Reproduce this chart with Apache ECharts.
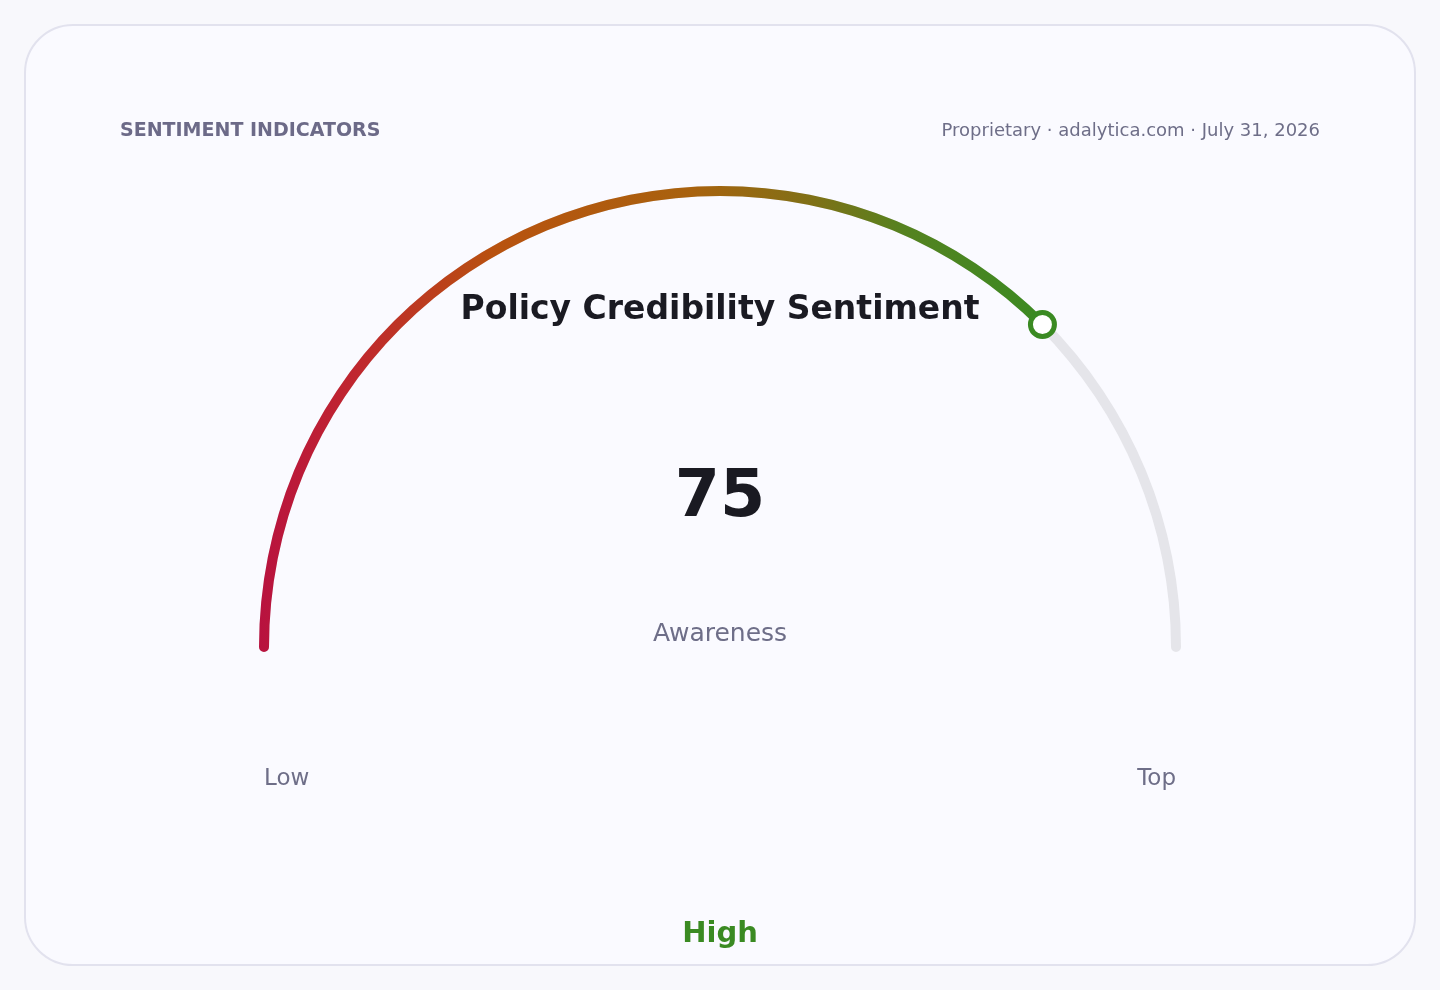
<!DOCTYPE html>
<html>
<head>
<meta charset="utf-8">
<script src="https://cdn.jsdelivr.net/npm/echarts@6/dist/echarts.min.js"></script>
<style>
html,body{margin:0;padding:0;background:#f8f8fc;}
#chart{width:1440px;height:990px;}
</style>
</head>
<body>
<div id="chart"></div>
<script>
const gaugeMin = 0;
const gaugeMax = 100;
const gaugeValue = 75;
const gaugeName = 'Awareness';
const chartTitle = 'Policy Credibility Sentiment';
const rangeLabels = ['Low', 'Top'];
const bandLabel = 'High';
const headerLeft = 'SENTIMENT INDICATORS';
const headerRight = 'Proprietary · adalytica.com · July 31, 2026';

const FONT = 'DejaVu Sans';
const chart = echarts.init(document.getElementById('chart'));
const R = 461;
const CY = 647;
const progressGradient = new echarts.graphic.LinearGradient(0, 0, 1, 0, [
  { offset: 0, color: '#b8123f' },
  { offset: 0.12, color: '#c0262f' },
  { offset: 0.3, color: '#b8520f' },
  { offset: 0.55, color: '#a8620e' },
  { offset: 0.7, color: '#807016' },
  { offset: 0.82, color: '#548220' },
  { offset: 1, color: '#3a8a22' }
]);

const base = {
  type: 'gauge',
  center: [720, CY],
  radius: R,
  startAngle: 180,
  endAngle: 0,
  min: gaugeMin,
  max: gaugeMax,
  splitLine: { show: false },
  axisTick: { show: false },
  axisLabel: { show: false },
  anchor: { show: false }
};

chart.setOption({
  backgroundColor: '#f8f8fc',
  animation: false,
  title: {
    text: chartTitle,
    left: 'center',
    top: 289,
    textStyle: { fontFamily: FONT, fontSize: 33, fontWeight: 'bold', color: '#1a1a22' }
  },
  graphic: [
    { type: 'rect', z: -10, shape: { x: 25, y: 25, width: 1390, height: 940, r: 48 },
      style: { fill: '#fafaff', stroke: '#e2e2ee', lineWidth: 2 } },
    { type: 'text', left: 120, top: 122, style: { text: headerLeft, fontFamily: FONT, fontSize: 19, fontWeight: 'bold', fill: '#6c6a88' } },
    { type: 'text', right: 120, top: 122, style: { text: headerRight, fontFamily: FONT, fontSize: 18, fill: '#6e6e88' } },
    { type: 'text', left: 264, top: 768, style: { text: rangeLabels[0], fontFamily: FONT, fontSize: 23, fill: '#6e6e88' } },
    { type: 'text', right: 264, top: 768, style: { text: rangeLabels[1], fontFamily: FONT, fontSize: 23, fill: '#6e6e88' } },
    { type: 'text', left: 'center', top: 920, style: { text: bandLabel, fontFamily: FONT, fontSize: 29, fontWeight: 'bold', fill: '#3a8a22' } }
  ],
  series: [
    Object.assign({}, base, {
      z: 2,
      axisLine: { roundCap: true, lineStyle: { width: 10, color: [[1, '#e5e5ea']] } },
      progress: { show: true, width: 10, roundCap: true, itemStyle: { color: progressGradient } },
      pointer: { show: false },
      title: {
        offsetCenter: [0, -13],
        fontFamily: FONT, fontSize: 25, color: '#6e6e88'
      },
      detail: {
        valueAnimation: false,
        offsetCenter: [0, -148],
        formatter: '{value}',
        fontFamily: FONT, fontSize: 65, fontWeight: 'bold', color: '#1a1a22'
      },
      data: [{ value: gaugeValue, name: gaugeName }]
    }),
    Object.assign({}, base, {
      z: 5,
      axisLine: { show: false },
      progress: { show: false },
      pointer: {
        show: true,
        icon: 'circle',
        width: 24,
        length: 24,
        offsetCenter: [0, -(R - 5) + 12],
        itemStyle: { color: '#ffffff', borderColor: '#3a8a22', borderWidth: 5 }
      },
      title: { show: false },
      detail: { show: false },
      data: [{ value: gaugeValue, name: gaugeName }]
    })
  ]
});
</script>
</body>
</html>
